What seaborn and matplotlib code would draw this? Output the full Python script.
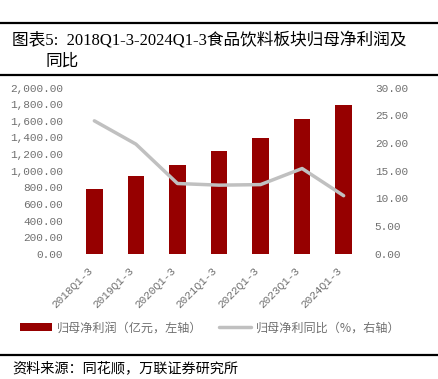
import numpy as np
import pandas as pd
import matplotlib
matplotlib.use("Agg")
import matplotlib.pyplot as plt
import seaborn as sns
from matplotlib.patches import Rectangle
from matplotlib.lines import Line2D
from matplotlib.ticker import FuncFormatter, MultipleLocator

categories = ["2018Q1-3", "2019Q1-3", "2020Q1-3", "2021Q1-3", "2022Q1-3", "2023Q1-3", "2024Q1-3"]
net_profit = [777, 941, 1069, 1237, 1397, 1622, 1793]
yoy_growth = [24.0, 19.8, 12.7, 12.4, 12.5, 15.4, 10.5]

title_line1 = "图表5:  2018Q1-3-2024Q1-3食品饮料板块归母净利润及"
title_line2 = "同比"
legend_bar = "归母净利润（亿元，左轴）"
legend_line = "归母净利同比（%，右轴）"
source_text = "资料来源：同花顺，万联证券研究所"

sns.set_style("white")
plt.rcParams['font.family'] = ['Liberation Serif', 'Noto Sans CJK SC', 'DejaVu Sans']

BAR_COLOR = "#960000"
LINE_COLOR = "#C0C0C0"
TICK_COLOR = "#707070"
MONO = ['Liberation Mono', 'DejaVu Sans Mono']

fig = plt.figure(figsize=(4.38, 3.79), dpi=100)
ax = fig.add_axes([0.168, 0.330, 0.664, 0.439])

df = pd.DataFrame({"cat": categories, "profit": net_profit, "yoy": yoy_growth})
sns.barplot(data=df, x="cat", y="profit", color=BAR_COLOR, width=0.4,
            saturation=1, ax=ax, edgecolor="none")
ax.set_xlim(-0.5, len(categories) - 0.5)
ax.set_ylim(0, 2000)
ax.yaxis.set_major_locator(MultipleLocator(200))
ax.yaxis.set_major_formatter(FuncFormatter(lambda v, p: f"{v:,.2f}"))
ax.set_xlabel("")
ax.set_ylabel("")

ax2 = ax.twinx()
sns.lineplot(x=np.arange(len(categories)), y=df["yoy"], ax=ax2,
             color=LINE_COLOR, linewidth=2.5)
ax2.set_ylim(0, 30)
ax2.yaxis.set_major_locator(MultipleLocator(5))
ax2.yaxis.set_major_formatter(FuncFormatter(lambda v, p: f"{v:.2f}"))
ax2.set_ylabel("")
ax2.set_xlim(-0.5, len(categories) - 0.5)

for a in (ax, ax2):
    for s in a.spines.values():
        s.set_visible(False)
    a.tick_params(axis="both", length=0, labelsize=8, labelcolor=TICK_COLOR)
    a.grid(False)
    for lbl in a.get_yticklabels() + a.get_xticklabels():
        lbl.set_family(MONO)
ax.tick_params(axis="y", pad=7.5)
ax2.tick_params(axis="y", pad=7.5)
ax.tick_params(axis="x", pad=8)
for lbl in ax.get_xticklabels():
    lbl.set_rotation(45)
    lbl.set_ha("right")

handles = [Rectangle((0, 0), 1, 1, facecolor=BAR_COLOR, edgecolor="none"),
           Line2D([0], [0], color=LINE_COLOR, linewidth=2.5)]
fig.legend(handles, [legend_bar, legend_line], loc="center",
           bbox_to_anchor=(0.48, 0.135), ncol=2, frameon=False,
           handlelength=2.7, handleheight=0.6,
           columnspacing=1.3, handletextpad=0.4,
           labelcolor=TICK_COLOR, prop={'family': ['Noto Sans CJK SC'], 'size': 8.7})

# title bars
for y, lw in [(0.939, 1.6), (0.802, 1.6), (0.063, 1.6)]:
    fig.add_artist(Line2D([0, 1], [y, y], transform=fig.transFigure,
                          color="black", linewidth=lw))
fig.text(0.027, 0.894, title_line1, fontsize=12, va="center", ha="left",
         color="black")
fig.text(0.103, 0.836, title_line2, fontsize=12, va="center", ha="left",
         color="black")
fig.text(0.027, 0.029, source_text, fontsize=10.2, va="center", ha="left",
         color="black", style="italic",
         family=['Noto Sans CJK SC', 'DejaVu Sans'])

fig.savefig("out.png", dpi=100)
